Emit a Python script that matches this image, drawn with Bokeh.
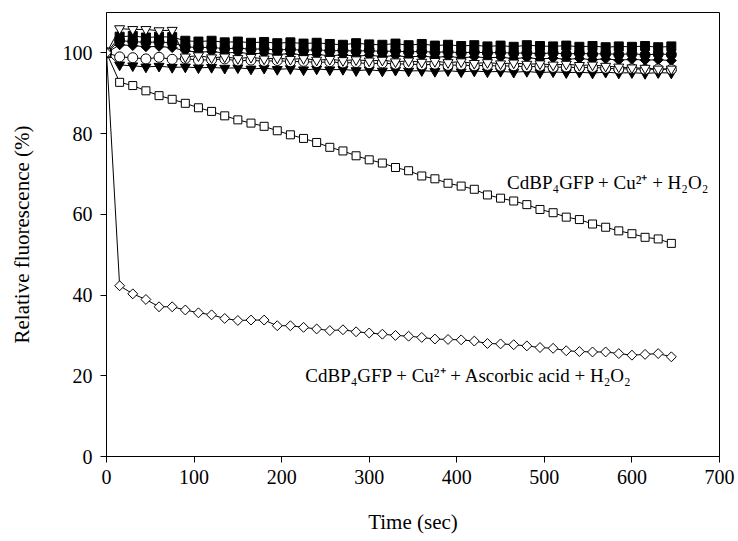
from bokeh.plotting import figure
from bokeh.models import Label, FixedTicker
from bokeh.embed import file_html
from bokeh.resources import INLINE

time_s = [0, 15, 30, 45, 60, 75, 90, 105, 120, 135,
          150, 165, 180, 195, 210, 225, 240, 255, 270, 285,
          300, 315, 330, 345, 360, 375, 390, 405, 420, 435,
          450, 465, 480, 495, 510, 525, 540, 555, 570, 585,
          600, 615, 630, 645]

filled_square = [100.0, 104.0, 104.2, 103.8, 104.0, 103.9, 103.0, 102.8, 103.0, 102.6,
                 102.8, 102.5, 102.7, 102.4, 102.6, 102.3, 102.5, 102.2, 102.0, 102.4,
                 102.1, 102.0, 102.3, 101.9, 102.2, 101.8, 102.0, 101.7, 101.9, 101.6,
                 101.8, 101.5, 101.9, 101.7, 101.6, 101.8, 101.5, 101.7, 101.4, 101.6,
                 101.5, 101.7, 101.4, 101.6]

filled_circle = [100.0, 103.0, 102.8, 102.6, 102.7, 102.5, 101.5, 101.3, 101.4, 101.0,
                 101.2, 100.9, 101.0, 100.7, 100.9, 100.6, 100.8, 100.5, 100.6, 100.4,
                 100.6, 100.3, 100.5, 100.2, 100.4, 100.1, 100.3, 100.0, 100.2, 100.0,
                 100.1, 99.9, 100.0, 99.8, 100.0, 99.7, 99.9, 99.7, 99.8, 99.6,
                 99.8, 99.5, 99.7, 99.6]

filled_diamond = [100.0, 102.0, 101.8, 101.5, 101.6, 101.3, 100.5, 100.2, 100.3, 100.0,
                  100.1, 99.8, 99.9, 99.6, 99.8, 99.5, 99.6, 99.3, 99.5, 99.2,
                  99.4, 99.1, 99.3, 99.0, 99.2, 98.9, 99.1, 98.8, 99.0, 98.8,
                  98.9, 98.6, 98.8, 98.5, 98.7, 98.4, 98.6, 98.3, 98.5, 98.2,
                  98.4, 98.2, 98.3, 98.1]

filled_invtri = [100.0, 97.0, 96.8, 96.5, 96.7, 96.4, 96.5, 96.3, 96.4, 96.2,
                 96.3, 96.0, 96.2, 95.9, 96.1, 95.8, 96.0, 95.8, 95.9, 95.6,
                 95.8, 95.5, 95.7, 95.5, 95.6, 95.4, 95.6, 95.3, 95.5, 95.3,
                 95.4, 95.2, 95.4, 95.1, 95.3, 95.1, 95.2, 95.0, 95.2, 95.0,
                 95.1, 94.9, 95.1, 95.0]

open_circle = [100.0, 99.0, 98.8, 98.5, 98.9, 98.4, 98.6, 98.2, 98.3, 98.5,
               98.0, 98.2, 97.9, 98.1, 97.8, 97.9, 97.6, 97.8, 97.5, 97.6,
               97.3, 97.5, 97.2, 97.3, 97.0, 97.2, 96.9, 97.0, 96.8, 96.9,
               96.7, 96.8, 96.5, 96.7, 96.4, 96.5, 96.3, 96.4, 96.2, 96.0,
               96.1, 95.9, 96.0, 95.9]

open_invtri = [100.0, 106.0, 105.8, 105.8, 105.5, 105.6, 99.0, 99.3, 98.8, 99.0,
               98.6, 98.9, 98.5, 98.7, 98.4, 98.6, 98.2, 98.4, 98.1, 98.3,
               98.0, 98.2, 97.8, 98.0, 97.7, 97.9, 97.6, 97.8, 97.4, 97.6,
               97.3, 97.5, 97.2, 97.3, 97.0, 97.2, 96.9, 97.0, 96.7, 96.5,
               96.3, 96.2, 96.0, 96.0]

open_square = [100.0, 92.7, 91.9, 90.6, 89.4, 88.5, 87.5, 86.4, 85.5, 84.4,
               83.4, 82.6, 81.8, 80.7, 79.7, 78.8, 77.8, 76.6, 75.7, 74.5,
               73.5, 72.7, 71.6, 70.8, 69.5, 68.8, 67.7, 67.0, 66.2, 64.8,
               64.0, 63.3, 62.4, 61.2, 60.4, 59.3, 58.7, 57.6, 56.8, 55.9,
               55.2, 54.3, 53.9, 52.8]

open_diamond = [100.0, 42.3, 40.3, 38.9, 37.1, 37.1, 36.3, 35.6, 35.1, 34.2,
                33.7, 33.8, 33.8, 32.4, 32.4, 32.0, 31.6, 31.2, 31.4, 30.9,
                30.6, 30.3, 30.0, 29.8, 29.5, 29.1, 29.0, 28.9, 28.6, 28.0,
                27.9, 27.7, 27.4, 27.0, 26.8, 26.2, 26.0, 25.9, 25.9, 25.5,
                25.1, 25.3, 25.5, 24.7]

x_ticks = [0, 100, 200, 300, 400, 500, 600, 700]
y_ticks = [0, 20, 40, 60, 80, 100]

label_h2o2 = "CdBP\u2084GFP + Cu\u00b2\u207a + H\u2082O\u2082"
label_asc = "CdBP\u2084GFP + Cu\u00b2\u207a + Ascorbic acid + H\u2082O\u2082"

FONT = "Liberation Serif"

p = figure(width=738, height=541, x_range=(0, 700), y_range=(0, 110),
           output_backend="svg", toolbar_location=None,
           min_border_left=106, min_border_right=19, min_border_top=12, min_border_bottom=85)
p.grid.visible = False
p.outline_line_color = "black"
p.outline_line_width = 1
p.background_fill_color = "white"
p.border_fill_color = "white"

for ax in (p.xaxis[0], p.yaxis[0]):
    ax.axis_line_color = "black"
    ax.major_tick_line_color = "black"
    ax.major_tick_out = 6
    ax.major_tick_in = 0
    ax.minor_tick_line_color = None
    ax.major_label_text_font = FONT
    ax.major_label_text_font_size = "20px"
    ax.major_label_text_color = "black"
    ax.axis_label_text_font = FONT
    ax.axis_label_text_font_size = "21px"
    ax.axis_label_text_font_style = "normal"
    ax.axis_label_text_color = "black"

p.xaxis.ticker = FixedTicker(ticks=x_ticks)
p.yaxis.ticker = FixedTicker(ticks=y_ticks)
p.xaxis.axis_label = "Time (sec)"
p.yaxis.axis_label = "Relative fluorescence (%)"
p.xaxis.major_label_standoff = 7
p.xaxis.axis_label_standoff = 23
p.yaxis.major_label_standoff = 8
p.yaxis.axis_label_standoff = 26

series = [
    (filled_square, "square", 9, 0.0, "black"),
    (filled_circle, "circle", 10, 0.0, "black"),
    (filled_diamond, "square", 7, 0.785398, "black"),
    (filled_invtri, "inverted_triangle", 10, 0.0, "black"),
    (open_circle, "circle", 10, 0.0, "white"),
    (open_invtri, "inverted_triangle", 10, 0.0, "white"),
    (open_square, "square", 8, 0.0, "white"),
    (open_diamond, "square", 7, 0.785398, "white"),
]

for ys, marker, size, ang, fill in series:
    p.line(time_s, ys, line_color="black", line_width=1)
for ys, marker, size, ang, fill in series:
    p.scatter(time_s, ys, marker=marker, size=size, angle=ang,
              fill_color=fill, line_color="black", line_width=1)

p.add_layout(Label(x=688, y=67.8, text=label_h2o2, text_align="right",
                   text_baseline="middle", text_font=FONT,
                   text_font_size="19px", text_color="black"))
p.add_layout(Label(x=227, y=20.0, text=label_asc, text_align="left",
                   text_baseline="middle", text_font=FONT,
                   text_font_size="19px", text_color="black"))

open("out.html", "w").write(file_html(p, INLINE))
